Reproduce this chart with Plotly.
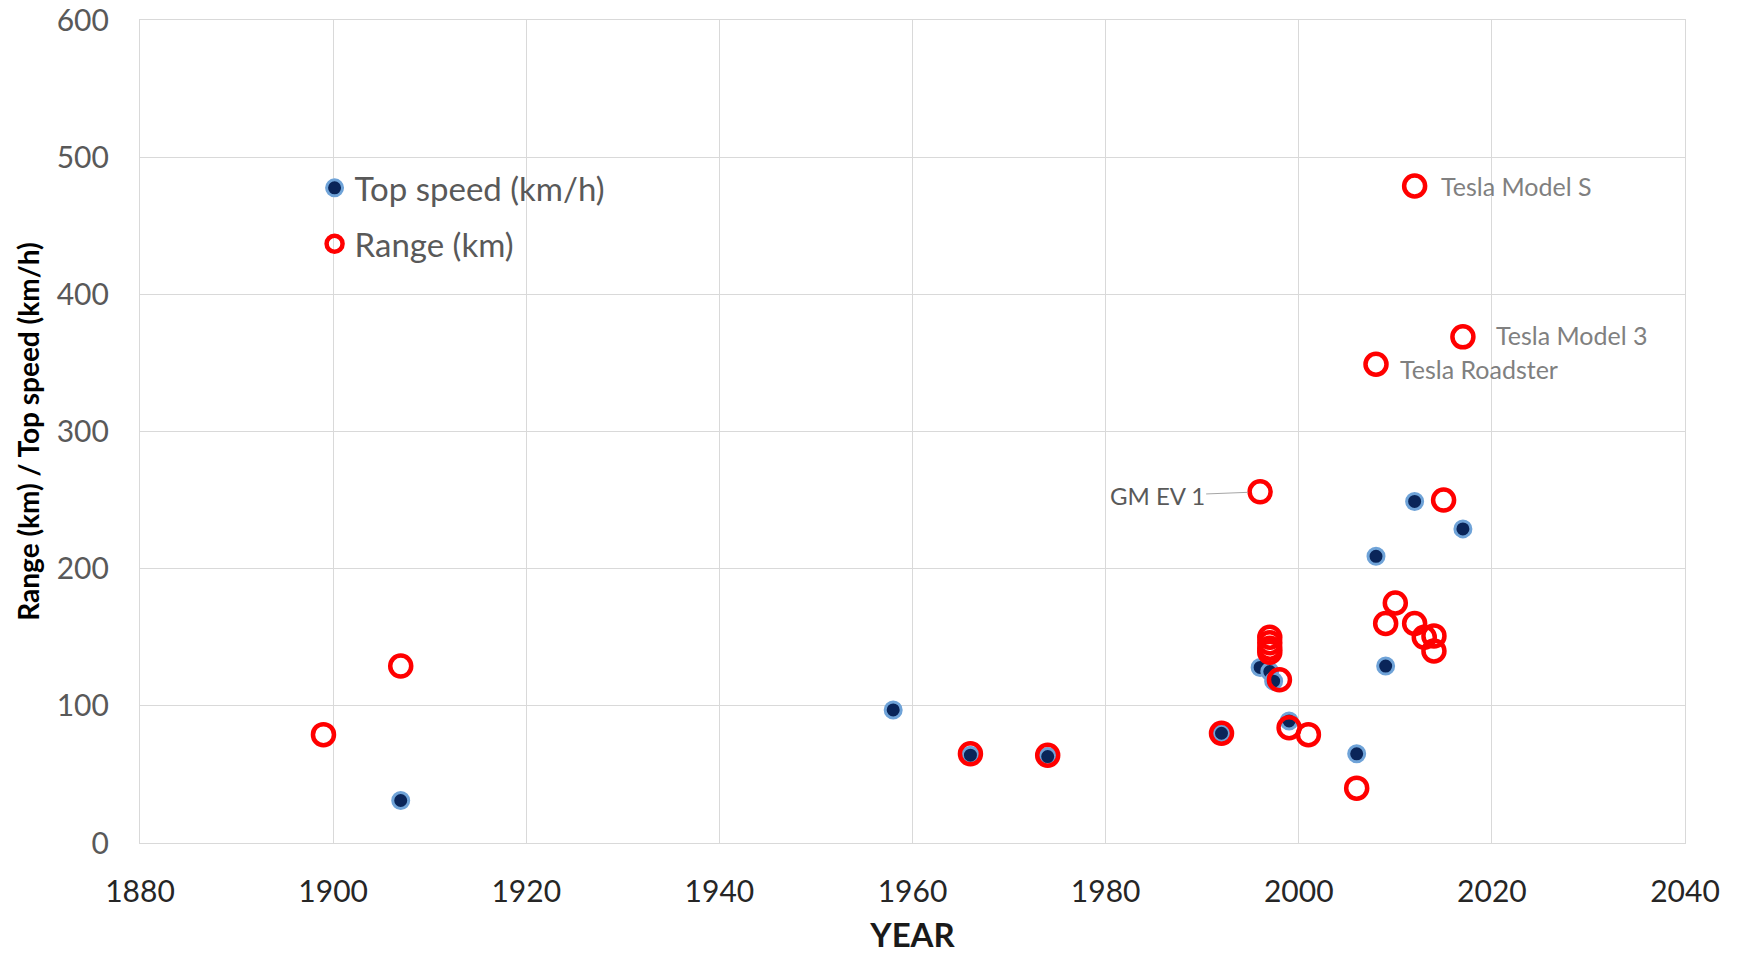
import plotly.graph_objects as go

# Top speed series (year, km/h)
speed_years = [1907, 1958, 1966, 1974, 1992, 1996, 1997, 1997.4, 1999, 2006, 2008, 2009, 2012, 2017]
speed_values = [31, 97, 64, 63, 80, 128, 125, 118, 89, 65, 209, 129, 249, 229]

# Range series (year, km)
range_years = [1899, 1907, 1966, 1974, 1992, 1996, 1997, 1997, 1997, 1997, 1998, 1999, 2001,
               2006, 2008, 2009, 2010, 2012, 2012, 2013, 2014, 2014, 2015, 2017]
range_values = [79, 129, 65, 64, 80, 256, 150, 146, 142, 139, 119, 84, 79,
                40, 349, 160, 175, 479, 160, 150, 151, 140, 250, 369]

# Labelled cars: (name, year, range)
label_names = ["Tesla Model S", "Tesla Model 3", "Tesla Roadster"]
label_years = [2012, 2017, 2008]
label_values = [479, 369, 349]
label_xshift = [24, 31, 22]
label_yshift = [0, 2, -5]

ev1_name = "GM EV 1"
ev1_year = 1996
ev1_value = 256

FONT = "Lato, 'Open Sans', Arial, sans-serif"
TITLE_FONT = "'Liberation Sans Narrow', Lato, Arial, sans-serif"

fig = go.Figure()
fig.add_trace(go.Scatter(
    x=speed_years, y=speed_values, mode="markers", name="Top speed (km/h)",
    legendgroup="a",
    marker=dict(symbol="circle", size=16, color="#0a2559",
                line=dict(color="#6fa3d8", width=3)),
))
fig.add_trace(go.Scatter(
    x=range_years, y=range_values, mode="markers", name="Range (km)",
    legendgroup="b",
    marker=dict(symbol="circle-open", size=21, color="#ff0000",
                line=dict(color="#ff0000", width=4.5)),
))

for n, xv, yv, xs, ys in zip(label_names, label_years, label_values, label_xshift, label_yshift):
    fig.add_annotation(x=xv, y=yv, text=n, showarrow=False, xanchor="left",
                       xshift=xs, yshift=ys,
                       font=dict(family=FONT, size=25, color="#808080"))

fig.add_annotation(x=ev1_year, y=ev1_value, text=ev1_name, showarrow=True,
                   arrowhead=0, arrowwidth=1, arrowcolor="#a6a6a6",
                   ax=-103, ay=4, standoff=12,
                   font=dict(family=FONT, size=24, color="#595959"))

grid = "#d9d9d9"
fig.update_layout(
    width=1738, height=954,
    margin=dict(l=140, r=53, t=20, b=111),
    paper_bgcolor="white", plot_bgcolor="white",
    font=dict(family=FONT),
    showlegend=True,
    legend=dict(x=0.113, y=0.83, xanchor="left", yanchor="top",
                bgcolor="rgba(0,0,0,0)", traceorder="grouped", tracegroupgap=10,
                font=dict(family=FONT, size=33, color="#595959")),
    xaxis=dict(range=[1880, 2040], dtick=20, tick0=1880, automargin=False,
               showgrid=True, gridcolor=grid, gridwidth=1.3, zeroline=False,
               showline=True, linecolor=grid, linewidth=1.3, mirror=True, ticks="",
               tickfont=dict(family=FONT, size=30, color="#262626"),
               ticklabelstandoff=22, ticklabeloverflow="allow",
               title=dict(text="<b>YEAR</b>", standoff=34,
                          font=dict(family=FONT, size=33, color="#1a1a1a"))),
    yaxis=dict(range=[0, 600], dtick=100, tick0=0, automargin=False,
               showgrid=True, gridcolor=grid, gridwidth=1.3, zeroline=False,
               showline=True, linecolor=grid, linewidth=1.3, mirror=True, ticks="",
               tickfont=dict(family=FONT, size=30, color="#595959"),
               ticklabelstandoff=24, ticklabeloverflow="allow",
               title=dict(text="<b>Range (km) / Top speed (km/h)</b>", standoff=8,
                          font=dict(family=TITLE_FONT, size=28, color="#000000"))),
)

fig.write_html("out.html", config={"displayModeBar": False},
               post_script="document.body.style.margin='0';document.body.style.overflow='hidden';")
